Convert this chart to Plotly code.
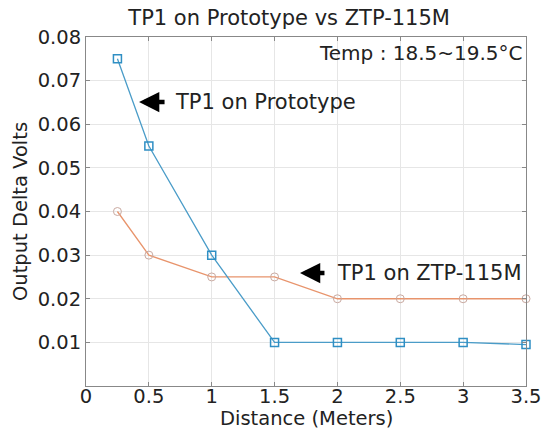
import plotly.graph_objects as go

distance = [0.25, 0.5, 1.0, 1.5, 2.0, 2.5, 3.0, 3.5]
prototype = [0.075, 0.055, 0.030, 0.010, 0.010, 0.010, 0.010, 0.0095]
ztp115m = [0.040, 0.030, 0.025, 0.025, 0.020, 0.020, 0.020, 0.020]
x_ticks = [0, 0.5, 1, 1.5, 2, 2.5, 3, 3.5]
x_tick_text = ["0", "0.5", "1", "1.5", "2", "2.5", "3", "3.5"]
y_ticks = [0.01, 0.02, 0.03, 0.04, 0.05, 0.06, 0.07, 0.08]
y_tick_text = ["0.01", "0.02", "0.03", "0.04", "0.05", "0.06", "0.07", "0.08"]

FONT = "DejaVu Sans, sans-serif"
TXT = "#222222"

fig = go.Figure()
fig.add_trace(go.Scatter(
    x=distance, y=ztp115m, mode="lines+markers", name="TP1 on ZTP-115M",
    line=dict(color="#e8946c", width=1.3),
    marker=dict(symbol="circle-open", size=8, color="#c9a9a0", line=dict(width=1)),
    cliponaxis=False))
fig.add_trace(go.Scatter(
    x=distance, y=prototype, mode="lines+markers", name="TP1 on Prototype",
    line=dict(color="#4a9cc8", width=1.3),
    marker=dict(symbol="square-open", size=8, color="#2f8fc4", line=dict(width=1.5)),
    cliponaxis=False))

axis_common = dict(showline=True, linecolor="#888888", linewidth=1, mirror="ticks",
                   ticks="inside", ticklen=4, tickcolor="#888888",
                   showgrid=True, gridcolor="#e6e6e6", gridwidth=1, zeroline=False,
                   tickfont=dict(size=19.5, color=TXT, family=FONT))

fig.update_layout(
    width=555, height=429,
    margin=dict(l=86, r=29, t=37, b=43),
    paper_bgcolor="white", plot_bgcolor="white",
    showlegend=False,
    font=dict(family=FONT, color=TXT),
    title=dict(text="TP1 on Prototype vs ZTP-115M", x=0.521, xanchor="center",
               y=0.958, yanchor="middle", font=dict(size=21, family=FONT, color=TXT)),
    xaxis=dict(range=[0, 3.5], tickvals=x_ticks, ticktext=x_tick_text, ticklabelstandoff=-7,
               automargin=False, **axis_common),
    yaxis=dict(range=[0, 0.08], tickvals=y_ticks, ticktext=y_tick_text, ticklabelstandoff=0,
               title=dict(text="Output Delta Volts", standoff=4, font=dict(size=19.5, family=FONT)),
               automargin=False, **axis_common),
)

# x-axis title
fig.add_annotation(x=0.5, y=-0.092, xref="paper", yref="paper", text="Distance (Meters)",
                   showarrow=False, xanchor="center", yanchor="middle",
                   font=dict(size=19.5, color=TXT, family=FONT))

# arrows and labels
fig.add_annotation(x=0.422, y=0.0651, ax=27, ay=0, xref="x", yref="y", text="",
                   showarrow=True, arrowhead=2, arrowsize=0.9, arrowwidth=4.5, arrowcolor="black")
fig.add_annotation(x=0.692, y=0.0651, xref="x", yref="y", text="TP1 on Prototype",
                   showarrow=False, xanchor="left", yanchor="middle",
                   font=dict(size=21, color=TXT, family=FONT))
fig.add_annotation(x=1.702, y=0.0259, ax=26, ay=0, xref="x", yref="y", text="",
                   showarrow=True, arrowhead=2, arrowsize=0.9, arrowwidth=4.5, arrowcolor="black")
fig.add_annotation(x=1.981, y=0.0259, xref="x", yref="y", text="TP1 on ZTP-115M",
                   showarrow=False, xanchor="left", yanchor="middle",
                   font=dict(size=21, color=TXT, family=FONT))
fig.add_annotation(x=3.49, y=0.0764, xref="x", yref="y", text="Temp : 18.5~19.5°C",
                   showarrow=False, xanchor="right", yanchor="middle",
                   font=dict(size=20, color=TXT, family=FONT))

fig.write_html("out.html", config={"displayModeBar": False},
               post_script="document.body.style.margin='0';document.body.style.overflow='hidden';")
